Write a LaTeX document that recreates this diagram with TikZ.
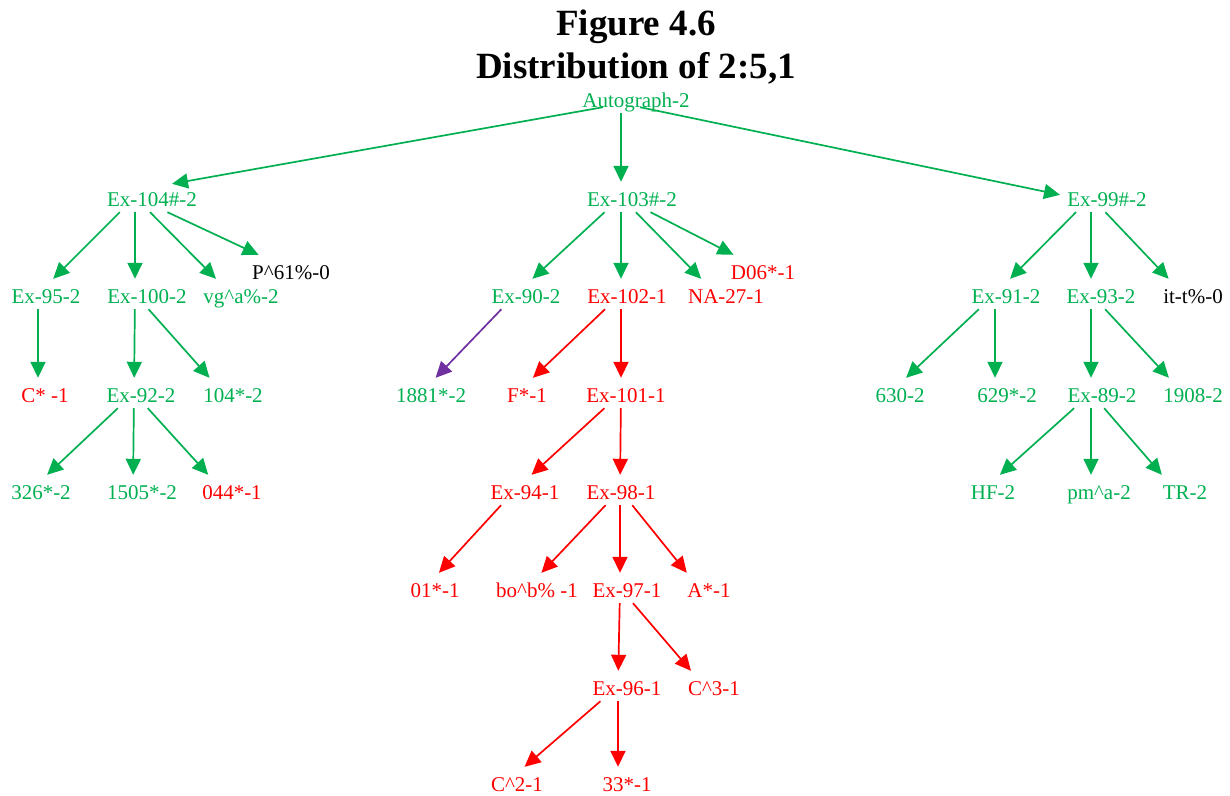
\documentclass[tikz,border=0pt]{standalone}
\usepackage{fontspec}
\setmainfont{Liberation Serif}
\usetikzlibrary{arrows.meta}
\definecolor{gv}{RGB}{0,176,80}
\definecolor{rd}{RGB}{255,0,0}
\definecolor{pu}{RGB}{112,48,160}
\begin{document}
\begin{tikzpicture}[x=1pt,y=-1pt,
  off/.style={xshift=-#1,execute at begin node={\hspace*{#1}\hspace*{#1}}},
  lab/.style={anchor=base,inner xsep=3pt,inner ysep=0pt,text height=24pt,text depth=6pt,font=\fontsize{21}{25}\selectfont},
  gn/.style={lab,text=gv},
  rn/.style={lab,text=rd},
  kn/.style={lab,text=black},
  edge/.style={line width=1.7pt,-{Triangle[length=16pt,width=15pt]}},
  ge/.style={edge,draw=gv,fill=gv},
  re/.style={edge,draw=rd,fill=rd},
  pe/.style={edge,draw=pu,fill=pu},
  ttl/.style={anchor=base,inner sep=0pt,font=\bfseries\fontsize{37}{40}\selectfont}]
\useasboundingbox (0,0) rectangle (1230,795);
\node[ttl] (t1) at (636,35) {Figure 4.6};
\node[ttl] (t2) at (636,78) {Distribution of 2:5,1};
% row 0
\node[gn,off=15pt] (auto) at (636,107) {Autograph-2};
% row 1
\node[gn,off=17pt] (e104) at (152,206) {Ex-104\#-2};
\node[gn,off=11pt] (e103) at (632,206) {Ex-103\#-2};
\node[gn,off=16pt] (e99) at (1107,206) {Ex-99\#-2};
% row 2
\node[gn,off=8pt] (e95) at (46,303) {Ex-95-2};
\node[gn,off=12pt] (e100) at (147,303) {Ex-100-2};
\node[gn,off=10pt] (vg) at (241,303) {vg\^{}a\%-2};
\node[kn,off=0pt] (p61) at (291,279) {P\^{}61\%-0};
\node[gn,off=10pt] (e90) at (526,303) {Ex-90-2};
\node[rn,off=6pt] (e102) at (627,303) {Ex-102-1};
\node[rn,off=10pt] (na27) at (726,303) {NA-27-1};
\node[rn,off=0pt] (d06) at (763,279) {D06*-1};
\node[gn,off=11pt] (e91) at (1006,303) {Ex-91-2};
\node[gn,off=10pt] (e93) at (1101,303) {Ex-93-2};
\node[kn,off=10pt] (itt) at (1193,303) {it-t\%-0};
% row 3
\node[rn,off=7pt] (cst) at (45,402) {C* -1};
\node[gn,off=7pt] (e92) at (141,402) {Ex-92-2};
\node[gn,off=10pt] (n104) at (233,402) {104*-2};
\node[gn,off=10pt] (n1881) at (431,402) {1881*-2};
\node[rn,off=10pt] (fst) at (527,402) {F*-1};
\node[rn,off=5pt] (e101) at (626,402) {Ex-101-1};
\node[gn,off=10pt] (n630) at (900,402) {630-2};
\node[gn,off=12pt] (n629) at (1007,402) {629*-2};
\node[gn,off=11pt] (e89) at (1102,402) {Ex-89-2};
\node[gn,off=10pt] (n1908) at (1193,402) {1908-2};
% row 4
\node[gn,off=10pt] (n326) at (41,499) {326*-2};
\node[gn,off=9pt] (n1505) at (142,499) {1505*-2};
\node[rn,off=10pt] (n044) at (232,499) {044*-1};
\node[rn,off=10pt] (e94) at (525,499) {Ex-94-1};
\node[rn,off=1pt] (e98) at (621,499) {Ex-98-1};
\node[gn,off=10pt] (hf) at (993,499) {HF-2};
\node[gn,off=8pt] (pma) at (1099,499) {pm\^{}a-2};
\node[gn,off=10pt] (tr) at (1185,499) {TR-2};
% row 5
\node[rn,off=10pt] (n01) at (435,597) {01*-1};
\node[rn,off=10pt] (bob) at (537,597) {bo\^{}b\% -1};
\node[rn,off=7pt] (e97) at (627,597) {Ex-97-1};
\node[rn,off=10pt] (ast) at (709,597) {A*-1};
% row 6
\node[rn,off=9pt] (e96) at (627,695) {Ex-96-1};
\node[rn,off=10pt] (c3) at (714,695) {C\^{}3-1};
% row 7
\node[rn,off=10pt] (c2) at (517,791) {C\^{}2-1};
\node[rn,off=9pt] (n33) at (627,791) {33*-1};
% green edges
\draw[ge] ([xshift=-18pt,yshift=6pt]auto.south) -- ([xshift=37pt,yshift=-2pt]e104.north);
\draw[ge] (auto) -- (e103);
\draw[ge] ([xshift=19pt,yshift=6pt]auto.south) -- ([xshift=-31pt,yshift=-13pt]e99.north);
\draw[ge] (e104) -- (e95);
\draw[ge] (e104) -- (e100);
\draw[ge] (e104) -- (vg);
\draw[ge] (e104) -- (p61);
\draw[ge] (e95) -- (cst);
\draw[ge] (e100) -- (e92);
\draw[ge] (e100) -- (n104);
\draw[ge] (e92) -- (n326);
\draw[ge] (e92) -- (n1505);
\draw[ge] (e92) -- (n044);
\draw[ge] (e103) -- (e90);
\draw[ge] (e103) -- (e102);
\draw[ge] (e103) -- (na27);
\draw[ge] (e103) -- (d06);
\draw[ge] (e99) -- (e91);
\draw[ge] (e99) -- (e93);
\draw[ge] (e99) -- (itt);
\draw[ge] (e91) -- (n630);
\draw[ge] (e91) -- (n629);
\draw[ge] (e93) -- (e89);
\draw[ge] (e93) -- (n1908);
\draw[ge] (e89) -- (hf);
\draw[ge] (e89) -- (pma);
\draw[ge] (e89) -- (tr);
% purple edge
\draw[pe] (e90) -- (n1881);
% red edges
\draw[re] (e102) -- (fst);
\draw[re] (e102) -- (e101);
\draw[re] (e101) -- (e94);
\draw[re] (e101) -- (e98);
\draw[re] (e94) -- (n01);
\draw[re] (e98) -- (bob);
\draw[re] (e98) -- (e97);
\draw[re] (e98) -- (ast);
\draw[re] (e97) -- (e96);
\draw[re] (e97) -- (c3);
\draw[re] (e96) -- (c2);
\draw[re] (e96) -- (n33);
\end{tikzpicture}
\end{document}
